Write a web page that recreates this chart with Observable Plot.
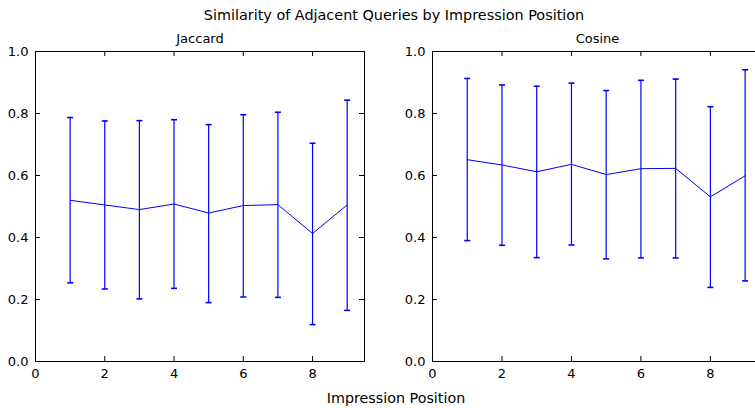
<!DOCTYPE html>
<html><head><meta charset="utf-8">
<script src="https://cdn.jsdelivr.net/npm/d3@7"></script>
<script src="https://cdn.jsdelivr.net/npm/@observablehq/plot@0.6"></script>
<style>
html,body{margin:0;padding:0;background:#fff;overflow:hidden;}
#wrap{position:relative;width:755px;height:408px;overflow:hidden;font-family:"DejaVu Sans",sans-serif;color:#000;}
.panel{position:absolute;top:0;}
.panel svg{max-width:none !important;display:block;}
#title{position:absolute;top:7px;left:0;width:788px;text-align:center;font-size:14.4px;line-height:16px;white-space:nowrap;}
#xlabel{position:absolute;top:390px;left:0;width:792px;text-align:center;font-size:14.3px;line-height:16px;white-space:nowrap;}
</style></head>
<body>
<div id="wrap">
  <div id="title">Similarity of Adjacent Queries by Impression Position</div>
  <div id="p1" class="panel" style="left:0px;width:380px"></div>
  <div id="p2" class="panel" style="left:397px;width:375px"></div>
  <div id="xlabel">Impression Position</div>
</div>
<script>
const positions = [1, 2, 3, 4, 5, 6, 7, 8, 9];
const jaccardMean = [0.520, 0.505, 0.490, 0.508, 0.479, 0.503, 0.506, 0.413, 0.505];
const jaccardLow  = [0.254, 0.234, 0.202, 0.236, 0.190, 0.208, 0.207, 0.119, 0.165];
const jaccardHigh = [0.787, 0.776, 0.777, 0.780, 0.764, 0.796, 0.804, 0.704, 0.843];
const cosineMean  = [0.651, 0.634, 0.612, 0.636, 0.603, 0.622, 0.623, 0.531, 0.599];
const cosineLow   = [0.390, 0.375, 0.335, 0.376, 0.331, 0.334, 0.334, 0.239, 0.260];
const cosineHigh  = [0.913, 0.892, 0.888, 0.898, 0.874, 0.907, 0.911, 0.822, 0.941];
const xTicks = [0, 2, 4, 6, 8];
const yTicks = [0, 0.2, 0.4, 0.6, 0.8, 1.0];
const panelTitles = ["Jaccard", "Cosine"];

const capSymbol = {draw(ctx) { ctx.moveTo(-3, 0); ctx.lineTo(3, 0); }};

function panel(title, mean, low, high, width, marginRight) {
  const H = 408, mt = 51, mb = 47;
  const FH = H - mt - mb;
  const FW = width - 35 - marginRight;
  const data = positions.map((p, i) => ({x: p, mean: mean[i], low: low[i], high: high[i]}));
  return Plot.plot({
    width, height: H,
    marginLeft: 35, marginRight, marginTop: mt, marginBottom: mb,
    x: {domain: [0, 9.5]},
    y: {domain: [0, 1]},
    style: {fontFamily: "DejaVu Sans, sans-serif", fontSize: "13px", color: "black", background: "transparent", overflow: "visible"},
    marks: [
      Plot.axisX({ticks: xTicks, tickSize: 0, tickPadding: 7, tickFormat: d => String(d), label: null, fill: "black"}),
      Plot.axisY({ticks: yTicks, tickSize: 0, tickPadding: 7, tickFormat: d3.format(".1f"), label: null, fill: "black"}),
      Plot.tickX(xTicks, {x: d => d, insetTop: FH - 5, stroke: "black"}),
      Plot.tickX(xTicks, {x: d => d, insetBottom: FH - 5, stroke: "black"}),
      Plot.tickY(yTicks, {y: d => d, insetRight: FW - 5, stroke: "black"}),
      Plot.tickY(yTicks, {y: d => d, insetLeft: FW - 5, stroke: "black"}),
      Plot.ruleX(data, {x: "x", y1: "low", y2: "high", stroke: "blue", strokeWidth: 1.2}),
      Plot.dot(data, {x: "x", y: "high", symbol: capSymbol, stroke: "blue", strokeWidth: 1.6, fill: "none"}),
      Plot.dot(data, {x: "x", y: "low", symbol: capSymbol, stroke: "blue", strokeWidth: 1.6, fill: "none"}),
      Plot.line(data, {x: "x", y: "mean", stroke: "blue", strokeWidth: 1}),
      Plot.frame({stroke: "black", strokeWidth: 1}),
      Plot.text([title], {text: d => d, frameAnchor: "top", lineAnchor: "bottom", dy: -9, fontSize: 13, fill: "black"})
    ]
  });
}

document.getElementById("p1").appendChild(panel(panelTitles[0], jaccardMean, jaccardLow, jaccardHigh, 380, 16));
document.getElementById("p2").appendChild(panel(panelTitles[1], cosineMean, cosineLow, cosineHigh, 375, 10));
</script>
</body></html>
